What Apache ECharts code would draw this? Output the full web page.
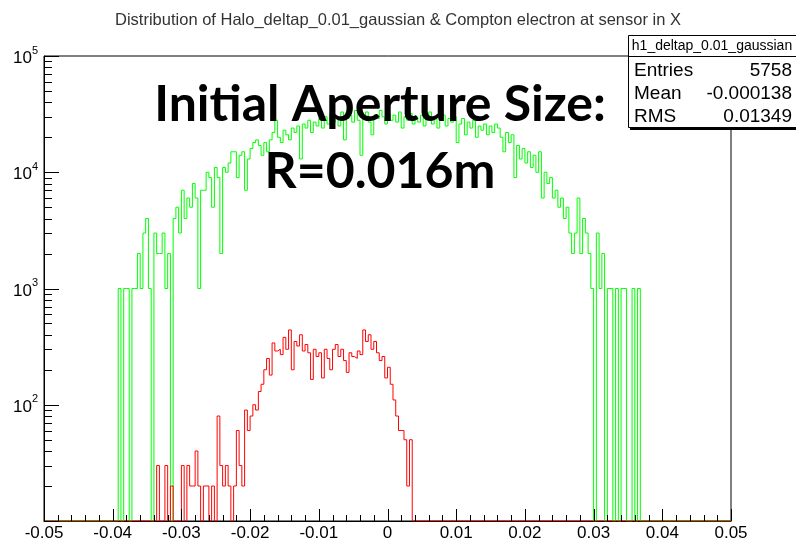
<!DOCTYPE html>
<html><head><meta charset="utf-8">
<script src="https://cdn.jsdelivr.net/npm/echarts@6/dist/echarts.min.js"></script>
<style>html,body{margin:0;padding:0;background:#fff}#c{width:796px;height:543px}</style>
</head><body><div id="c"></div>
<script>
// Histogram definition: 250 bins from -0.05 to 0.05
const binLow = -0.05;
const binHigh = 0.05;

// Halo_deltap_0.01_gaussian (green), bin contents
const greenHalo = [
0,0,0,0,0,0,0,0,0,0,
0,0,0,0,0,0,0,0,0,0,
0,0,0,0,0,0,0,1000,0,1000,
1000,0,1000,1000,2000,1000,3000,4000,1000,0,
3000,2000,2000,3000,1000,2000,0,4000,5000,3000,
7000,4000,6000,5000,8000,6000,1000,7000,7000,10000,
9000,5000,11000,9000,2000,11000,10000,12000,15000,15000,
9000,14000,15000,7000,13000,16000,18000,19000,17000,14000,
18000,15000,19000,22000,28000,20000,18000,23000,21000,19000,
24000,22000,25000,13000,26000,24000,28000,22000,27000,25000,
29000,24000,30000,26000,32000,27000,30000,25000,33000,19000,
29000,31000,27000,34000,28000,14000,30000,33000,27000,21000,
31000,29000,34000,30000,26000,32000,28000,31000,27000,33000,
24000,30000,28000,32000,26000,30000,27000,31000,25000,29000,
33000,26000,30000,24000,28000,31000,25000,29000,27000,30000,
18000,26000,29000,21000,27000,24000,28000,20000,25000,23000,
26000,21000,25000,22000,26000,24000,20000,15000,22000,18000,
21000,9000,17000,13000,16000,12000,15000,11000,14000,10000,
15000,6000,10000,8000,9000,6000,7000,5000,6000,4000,
5000,3000,2000,3000,6000,2000,4000,3000,2000,1000,
0,3000,1000,2000,0,1000,1000,0,1000,0,
1000,1000,0,0,1000,0,1000,0,0,0,
0,0,0,0,0,0,0,0,0,0,
0,0,0,0,0,0,0,0,0,0,
0,0,0,0,0,0,0,0,0,0
];

// Compton electron (red), bin contents
const redCompton = [
0,0,0,0,0,0,0,0,0,0,
0,0,0,0,0,0,0,0,0,0,
0,0,0,0,0,0,0,0,0,0,
0,0,0,0,0,0,0,0,0,0,
0,30,0,0,30,0,20,0,0,0,
30,0,30,20,20,40,20,0,20,20,
10,20,0,80,30,20,30,20,10,20,
60,30,20,90,60,80,100,90,130,150,
200,250,180,340,290,300,270,380,300,440,
200,350,320,400,290,330,280,165,300,260,
280,170,300,250,200,300,330,260,300,240,
190,280,260,250,290,270,440,350,400,300,
350,280,240,260,170,210,150,110,80,60,
60,50,20,50,0,0,0,0,0,0,
0,0,0,0,0,0,0,0,0,0,
0,0,0,0,0,0,0,0,0,0,
0,0,0,0,0,0,0,0,0,0,
0,0,0,0,0,0,0,0,0,0,
0,0,0,0,0,0,0,0,0,0,
0,0,0,0,0,0,0,0,0,0,
0,0,0,0,0,0,0,0,0,0,
0,0,0,0,0,0,0,0,0,0,
0,0,0,0,0,0,0,0,0,0,
0,0,0,0,0,0,0,0,0,0,
0,0,0,0,0,0,0,0,0,0
];

const yMin = 10;
const yMax = 100000;
const yMajorTickValues = [10, 100, 1000, 10000, 100000];
const yMinorTickValues = [20,30,40,50,60,70,80,90,200,300,400,500,600,700,800,900,
  2000,3000,4000,5000,6000,7000,8000,9000,20000,30000,40000,50000,60000,70000,80000,90000];
const xMajorStep = 0.01;
const xMinorPerMajor = 5;

const titleText = 'Distribution of Halo_deltap_0.01_gaussian & Compton electron at sensor in X';
const statsTitle = 'h1_deltap_0.01_gaussian';
const statsNames = ['Entries', 'Mean', 'RMS'];
const statsValues = ['5758', '-0.000138', '0.01349'];
const overlayLines = ['Initial Aperture Size:', 'R=0.016m'];

function stepData(vals) {
  const w = (binHigh - binLow) / vals.length;
  const out = [];
  for (let i = 0; i < vals.length; i++) {
    out.push([binLow + i * w, vals[i] > 0 ? vals[i] : yMin]);
  }
  const last = vals[vals.length - 1];
  out.push([binHigh, last > 0 ? last : yMin]);
  return out;
}

const FONT = 'Liberation Sans, Arial, sans-serif';
function gridOpt() {
  return {left: 44, right: 65, top: 56, bottom: 22, containLabel: false, outerBoundsMode: 'none',
          show: true, borderColor: '#000', borderWidth: 1};
}
function seriesOpt() {
  return [
    {name: 'halo', type: 'line', step: 'end', data: stepData(greenHalo),
     showSymbol: false, symbol: 'none', clip: true, z: 2,
     lineStyle: {color: '#00ff00', width: 1}, itemStyle: {color: '#00ff00'}},
    {name: 'compton', type: 'line', step: 'end', data: stepData(redCompton),
     showSymbol: false, symbol: 'none', clip: true, z: 3,
     lineStyle: {color: '#ff0000', width: 1}, itemStyle: {color: '#ff0000'}}
  ];
}

function baseGraphics() {
  const g = [];
  g.push({type:'rect', z:100, shape:{x:630, y:37, width:180, height:93}, style:{fill:'#000'}});
  g.push({type:'rect', z:101, shape:{x:628.5, y:35.5, width:180, height:92}, style:{fill:'#fff', stroke:'#000', lineWidth:1}});
  g.push({type:'line', z:102, shape:{x1:628, y1:56.5, x2:796, y2:56.5}, style:{stroke:'#000', lineWidth:1}});
  g.push({type:'text', z:103, x:712, y:46, style:{text:statsTitle, font:'14px ' + FONT, fill:'#000', align:'center', verticalAlign:'middle'}});
  const rowY = [71, 94, 117];
  statsNames.forEach((n, i) => {
    g.push({type:'text', z:103, x:634, y:rowY[i], style:{text:n, font:'19px ' + FONT, fill:'#000', align:'left', verticalAlign:'middle'}});
    g.push({type:'text', z:103, x:792, y:rowY[i], style:{text:statsValues[i], font:'19px ' + FONT, fill:'#000', align:'right', verticalAlign:'middle'}});
  });
  const overlayY = [105, 172];
  overlayLines.forEach((t, i) => {
    g.push({type:'text', z:110, x:380, y:overlayY[i], style:{text:t, font:'bold 50px Lato, "Open Sans", sans-serif', fill:'#000', align:'center', verticalAlign:'middle'}});
  });
  return g;
}

const chart = echarts.init(document.getElementById('c'), null, {renderer: 'canvas'});

// Pass 1: plain axes + the series, to read the library's own scale mapping for ROOT-style inner ticks
chart.setOption({
  animation: false,
  grid: gridOpt(),
  xAxis: {type: 'value', min: binLow, max: binHigh, interval: xMajorStep, axisLine: {show: true, onZero: false}},
  yAxis: {type: 'log', logBase: 10, min: yMin, max: yMax, axisLine: {show: true, onZero: false}},
  series: seriesOpt()
});
const xModel = () => chart.getModel().getComponent('xAxis', 0);
const yModel = () => chart.getModel().getComponent('yAxis', 0);
function toPx(x, y) {
  let p = null;
  try { p = chart.convertToPixel({gridIndex: 0}, [x, y]); } catch (e) { p = null; }
  if (!p || !isFinite(p[0]) || !isFinite(p[1])) {
    const xa = xModel().axis, ya = yModel().axis;
    p = [xa.toGlobalCoord(xa.dataToCoord(x)), ya.toGlobalCoord(ya.dataToCoord(y))];
  }
  return p;
}
const tickEls = [];
const nX = Math.round((binHigh - binLow) / xMajorStep) * xMinorPerMajor;
for (let k = 0; k <= nX; k++) {
  const xv = binLow + k * xMajorStep / xMinorPerMajor;
  const p = toPx(xv, yMin);
  const len = (k % xMinorPerMajor === 0) ? 12 : 6;
  const px = Math.round(p[0]) + 0.5;
  const py = Math.round(p[1]);
  tickEls.push({type:'line', zlevel: 1, z: 500, silent: true,
    shape:{x1:px, y1:py, x2:px, y2:py - len}, style:{stroke:'#000', lineWidth:1}});
}
yMajorTickValues.concat(yMinorTickValues).forEach(v => {
  const p = toPx(binLow, v);
  const len = yMajorTickValues.indexOf(v) >= 0 ? 15 : 8;
  const px = Math.round(p[0]);
  const py = Math.round(p[1]) + 0.5;
  tickEls.push({type:'line', zlevel: 1, z: 500, silent: true,
    shape:{x1:px, y1:py, x2:px + len, y2:py}, style:{stroke:'#000', lineWidth:1}});
});

// Pass 2: full chart, rebuilt from scratch
chart.setOption({
  animation: false,
  backgroundColor: '#fff',
  title: {
    text: titleText, left: 'center', top: 7,
    textStyle: {fontSize: 16.5, fontWeight: 'normal', color: '#333', fontFamily: FONT}
  },
  grid: gridOpt(),
  xAxis: {
    type: 'value', min: binLow, max: binHigh, interval: xMajorStep,
    axisLine: {show: true, onZero: false, lineStyle: {color: '#000', width: 1}},
    axisTick: {show: false},
    splitLine: {show: false},
    axisLabel: {fontSize: 17, color: '#000', fontFamily: FONT, margin: 4,
      formatter: v => {const r = Math.round(v * 100) / 100; return r === 0 ? '0' : String(r);}}
  },
  yAxis: {
    type: 'log', logBase: 10, min: yMin, max: yMax,
    axisLine: {show: true, onZero: false, lineStyle: {color: '#000', width: 1}},
    axisTick: {show: false},
    splitLine: {show: false},
    axisLabel: {
      margin: 6, color: '#000', fontFamily: FONT,
      formatter: v => {
        const e = Math.round(Math.log10(v));
        if (e <= 1) return '';
        return '{b|10}{s|' + e + '}';
      },
      rich: {
        b: {fontSize: 17, fontFamily: FONT, color: '#000', lineHeight: 22, verticalAlign: 'bottom'},
        s: {fontSize: 11, fontFamily: FONT, color: '#000', lineHeight: 22, verticalAlign: 'top'}
      }
    }
  },
  graphic: {elements: baseGraphics().concat(tickEls)},
  series: seriesOpt()
}, true);
</script>
</body></html>
